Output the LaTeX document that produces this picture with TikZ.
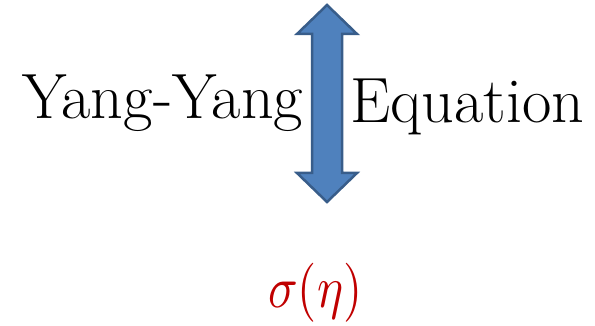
\documentclass[tikz,border=0pt]{standalone}
\usepackage{graphicx}
\definecolor{arrowfill}{RGB}{79,129,189}
\definecolor{arrowedge}{RGB}{56,93,138}
\definecolor{sigred}{RGB}{192,0,0}
\tikzset{
  bigtext/.style={inner sep=0pt, anchor=base west, font=\fontsize{64}{72}\selectfont},
  mathtext/.style={inner sep=0pt, anchor=base west, text=sigred},
  bigarrow/.style={fill=arrowfill, draw=arrowedge, line width=2.5pt, line join=miter}
}
\begin{document}
\begin{tikzpicture}[x=1pt,y=-1pt]
\useasboundingbox (0,0) rectangle (595,326);
\draw[bigarrow] (327,5) -- (357,34) -- (342,34) -- (342,173) -- (357,173) -- (327,202)
  -- (297,173) -- (312,173) -- (312,34) -- (297,34) -- cycle;
\node[bigtext] (yy) at (22,119) {Yang-Yang};
\node[bigtext] (eq) at (350,123) {Equation};
\node[mathtext] (sig) at (268,307) {\scalebox{4.9}[5.9]{$\sigma(\eta)$}};
\end{tikzpicture}
\end{document}
